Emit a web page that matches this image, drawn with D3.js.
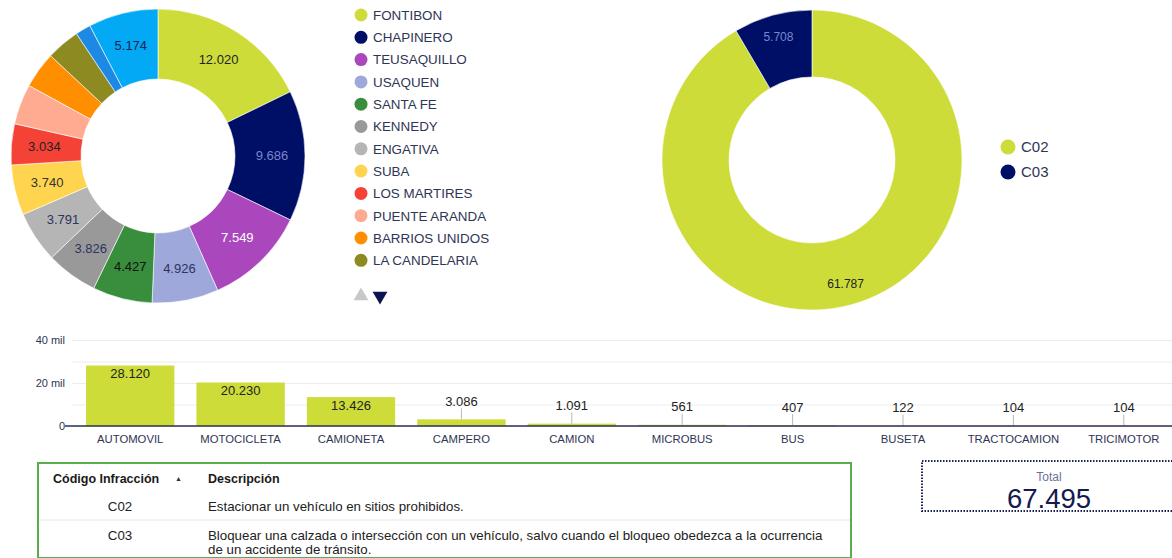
<!DOCTYPE html>
<html>
<head>
<meta charset="utf-8">
<script src="https://cdn.jsdelivr.net/npm/d3@7"></script>
<style>
  html, body { margin: 0; padding: 0; background: #fff; }
  svg { display: block; font-family: "Liberation Sans", Arial, sans-serif; }
</style>
</head>
<body>
<svg id="chart" width="1172" height="558"></svg>
<script>
// ---------------------------------------------------------------------------
// Data

// infracciones por localidad (donut izquierdo, la leyenda muestra la pagina 1)
const localidades = ['FONTIBON', 'CHAPINERO', 'TEUSAQUILLO', 'USAQUEN', 'SANTA FE', 'KENNEDY',
  'ENGATIVA', 'SUBA', 'LOS MARTIRES', 'PUENTE ARANDA', 'BARRIOS UNIDOS', 'LA CANDELARIA',
  'SAN CRISTOBAL', 'Otros'];
const localidadValores = [12020, 9686, 7549, 4926, 4427, 3826, 3791, 3740, 3034, 2990, 2700, 2490, 1142, 5174];
const legendPageSize = 12;

// infracciones por codigo (donut derecho)
const codigos = ['C02', 'C03'];
const codigoValores = [61787, 5708];

// infracciones por clase de vehiculo (barras)
const clases = ['AUTOMOVIL', 'MOTOCICLETA', 'CAMIONETA', 'CAMPERO', 'CAMION', 'MICROBUS',
  'BUS', 'BUSETA', 'TRACTOCAMION', 'TRICIMOTOR'];
const claseValores = [28120, 20230, 13426, 3086, 1091, 561, 407, 122, 104, 104];
const yTicks = [0, 20000, 40000];
const yGrid = [0, 10000, 20000, 30000, 40000];

// tabla de codigos
const tablaCodigos = ['C02', 'C03'];
const tablaDescripciones = [
  'Estacionar un vehículo en sitios prohibidos.',
  'Bloquear una calzada o intersección con un vehículo, salvo cuando el bloqueo obedezca a la ocurrencia de un accidente de tránsito.'
];

const total = 67495;

// ---------------------------------------------------------------------------
// Styles

const localidadColores = ['#cddc39', '#000f66', '#ab47bc', '#9fa8da', '#388e3c', '#999999',
  '#b5b5b5', '#ffd54f', '#f44336', '#ffab91', '#ff8f00', '#8d8a22', '#1e88e5', '#03a9f4'];
const localidadTexto = ['#222222', '#7986cb', '#ffffff', '#2c3460', '#111111', '#2c3460',
  '#2c3460', '#333333', '#222222', '#222222', '#222222', '#222222', '#222222', '#1a2552'];
const codigoColores = ['#cddc39', '#000f66'];
const codigoTexto = ['#222222', '#7986cb'];
const textDark = '#2f3555';

const locale = d3.formatLocale({ decimal: ',', thousands: '.', grouping: [3], currency: ['', ''] });
const fmt = locale.format(',d');

const svg = d3.select('#chart');

// ---------------------------------------------------------------------------
// Donuts

function drawDonut(values, colors, textColors, cx, cy, outer, inner, labelR, fontSize, minShare) {
  let sum = d3.sum(values);
  let pie = d3.pie().value(d => d).sort(null);
  let arc = d3.arc().innerRadius(inner).outerRadius(outer);
  let labelArc = d3.arc().innerRadius(labelR).outerRadius(labelR);

  let g = svg.append('g').attr('transform', `translate(${cx},${cy})`);
  let arcs = pie(values);

  g.selectAll('path')
    .data(arcs)
    .enter()
    .append('path')
    .attr('d', arc)
    .attr('fill', (d, i) => colors[i])
    .attr('stroke', '#fff')
    .attr('stroke-width', 0.6);

  g.selectAll('text')
    .data(arcs.filter(d => d.value / sum >= minShare))
    .enter()
    .append('text')
    .attr('transform', d => `translate(${labelArc.centroid(d)})`)
    .attr('text-anchor', 'middle')
    .attr('dy', '0.35em')
    .attr('font-size', fontSize)
    .attr('fill', d => textColors[d.index])
    .text(d => fmt(d.value));
}

drawDonut(localidadValores, localidadColores, localidadTexto, 158, 156, 147, 77, 114, 13, 0.0449);

// leyenda localidades
let legend1 = svg.append('g');
let legendY = d3.scaleLinear().domain([0, 1]).range([15, 37.3]);
let items1 = legend1.selectAll('g')
  .data(localidades.slice(0, legendPageSize))
  .enter()
  .append('g')
  .attr('transform', (d, i) => `translate(361,${legendY(i)})`);
items1.append('circle')
  .attr('r', 6.5)
  .attr('fill', (d, i) => localidadColores[i]);
items1.append('text')
  .attr('x', 12)
  .attr('dy', '0.36em')
  .attr('font-size', 13.4)
  .attr('fill', textDark)
  .text(d => d);

// flechas de paginacion
legend1.append('path')
  .attr('d', d3.symbol(d3.symbolTriangle, 95)())
  .attr('transform', 'translate(361,296)')
  .attr('fill', '#c8c8c8');
legend1.append('path')
  .attr('d', d3.symbol(d3.symbolTriangle, 95)())
  .attr('transform', 'translate(380,296) rotate(180)')
  .attr('fill', '#0b1450');

drawDonut(codigoValores, codigoColores, codigoTexto, 812, 160, 150, 83, 128, 12, 0);

let legend2 = svg.append('g');
let items2 = legend2.selectAll('g')
  .data(codigos)
  .enter()
  .append('g')
  .attr('transform', (d, i) => `translate(1008,${147 + i * 25})`);
items2.append('circle')
  .attr('r', 7.5)
  .attr('fill', (d, i) => codigoColores[i]);
items2.append('text')
  .attr('x', 13)
  .attr('dy', '0.36em')
  .attr('font-size', 15)
  .attr('fill', textDark)
  .text(d => d);

// ---------------------------------------------------------------------------
// Barras

let x = d3.scaleBand()
  .domain(clases)
  .range([75, 1179])
  .paddingInner(0.2)
  .paddingOuter(0.1);

let y = d3.scaleLinear()
  .domain([0, 40000])
  .range([426, 340]);

// grid
svg.append('g')
  .attr('transform', 'translate(72,0)')
  .call(d3.axisLeft(y).tickValues(yGrid).tickSize(-1110).tickFormat(''))
  .call(g => g.select('.domain').remove())
  .call(g => g.selectAll('line').attr('stroke', '#ececec'));

svg.append('g')
  .attr('transform', 'translate(68,0)')
  .call(d3.axisLeft(y).tickValues(yTicks).tickSize(0).tickPadding(3)
    .tickFormat(d => d === 0 ? '0' : (d / 1000) + ' mil'))
  .call(g => g.select('.domain').remove())
  .call(g => g.selectAll('text').attr('font-size', 11).attr('fill', textDark)
    .attr('font-family', '"Liberation Sans", Arial, sans-serif'));

let bars = svg.append('g');
bars.selectAll('rect')
  .data(claseValores)
  .enter()
  .append('rect')
  .attr('x', (d, i) => x(clases[i]))
  .attr('y', d => y(d))
  .attr('width', x.bandwidth())
  .attr('height', d => y(0) - y(d))
  .attr('fill', '#cddc39');

// etiquetas: dentro de la barra si cabe, si no arriba con guia
let barLabels = bars.selectAll('g.lbl')
  .data(claseValores)
  .enter()
  .append('g')
  .attr('class', 'lbl');
barLabels.each(function(d, i) {
  let g = d3.select(this);
  let cx = x(clases[i]) + x.bandwidth() / 2;
  let top = y(d);
  let inside = (y(0) - top) > 20;
  if (!inside) {
    g.append('line')
      .attr('x1', cx).attr('x2', cx)
      .attr('y1', top - 11).attr('y2', top)
      .attr('stroke', '#b8b8b8');
  }
  g.append('text')
    .attr('x', cx)
    .attr('y', inside ? top + 8 : top - 18)
    .attr('dy', '0.35em')
    .attr('text-anchor', 'middle')
    .attr('font-size', 13)
    .attr('fill', '#222')
    .text(fmt(d));
});

svg.append('g')
  .attr('transform', `translate(0,${y(0)})`)
  .call(d3.axisBottom(x).tickSize(0).tickPadding(8.5))
  .call(g => g.select('.domain').attr('stroke', '#2b3157').attr('stroke-width', 1.5)
    .attr('d', 'M65,0H1172'))
  .call(g => g.selectAll('text').attr('font-size', 11.3).attr('fill', textDark)
    .attr('font-family', '"Liberation Sans", Arial, sans-serif'));

// ---------------------------------------------------------------------------
// Tabla

let table = svg.append('g');
table.append('rect')
  .attr('x', 38).attr('y', 463)
  .attr('width', 813).attr('height', 95)
  .attr('fill', '#fff')
  .attr('stroke', '#5aac4e')
  .attr('stroke-width', 2);

table.append('text')
  .attr('x', 53).attr('y', 479).attr('dy', '0.35em')
  .attr('font-size', 12.5).attr('font-weight', 'bold').attr('fill', '#1a1a1a')
  .text('Código Infracción');
table.append('text')
  .attr('x', 175).attr('y', 479).attr('dy', '0.35em')
  .attr('font-size', 7).attr('fill', '#333')
  .text('▲');
table.append('text')
  .attr('x', 208).attr('y', 479).attr('dy', '0.35em')
  .attr('font-size', 12.5).attr('font-weight', 'bold').attr('fill', '#1a1a1a')
  .text('Descripción');

let rowY = [506, 535];
table.append('line')
  .attr('x1', 39).attr('x2', 850)
  .attr('y1', 520).attr('y2', 520)
  .attr('stroke', '#e6e6e6');

tablaCodigos.forEach((c, i) => {
  table.append('text')
    .attr('x', 120).attr('y', rowY[i]).attr('dy', '0.35em')
    .attr('text-anchor', 'middle')
    .attr('font-size', 13.3).attr('fill', '#222')
    .text(c);
  let t = table.append('text')
    .attr('x', 208).attr('y', rowY[i]).attr('dy', '0.35em')
    .attr('font-size', 13.3).attr('fill', '#222');
  wrap(t, tablaDescripciones[i], 626, 14);
});

function wrap(textSel, str, width, lineH) {
  let words = str.split(' ');
  let line = [];
  let tspan = textSel.append('tspan').attr('x', 208);
  words.forEach(w => {
    line.push(w);
    tspan.text(line.join(' '));
    if (tspan.node().getComputedTextLength() > width && line.length > 1) {
      line.pop();
      tspan.text(line.join(' '));
      line = [w];
      tspan = textSel.append('tspan').attr('x', 208).attr('dy', lineH).text(w);
    }
  });
}

// ---------------------------------------------------------------------------
// Total

let tot = svg.append('g');
tot.append('rect')
  .attr('x', 922).attr('y', 461)
  .attr('width', 262).attr('height', 50)
  .attr('fill', 'none')
  .attr('stroke', '#1a2552')
  .attr('stroke-width', 2)
  .attr('stroke-dasharray', '1.5,1.5');
tot.append('text')
  .attr('x', 1049).attr('y', 477).attr('dy', '0.35em')
  .attr('text-anchor', 'middle')
  .attr('font-size', 12).attr('fill', '#6b7391')
  .text('Total');
tot.append('text')
  .attr('x', 1049).attr('y', 508)
  .attr('text-anchor', 'middle')
  .attr('font-size', 27.5).attr('fill', '#141a4e')
  .text(fmt(total));
</script>
</body>
</html>
